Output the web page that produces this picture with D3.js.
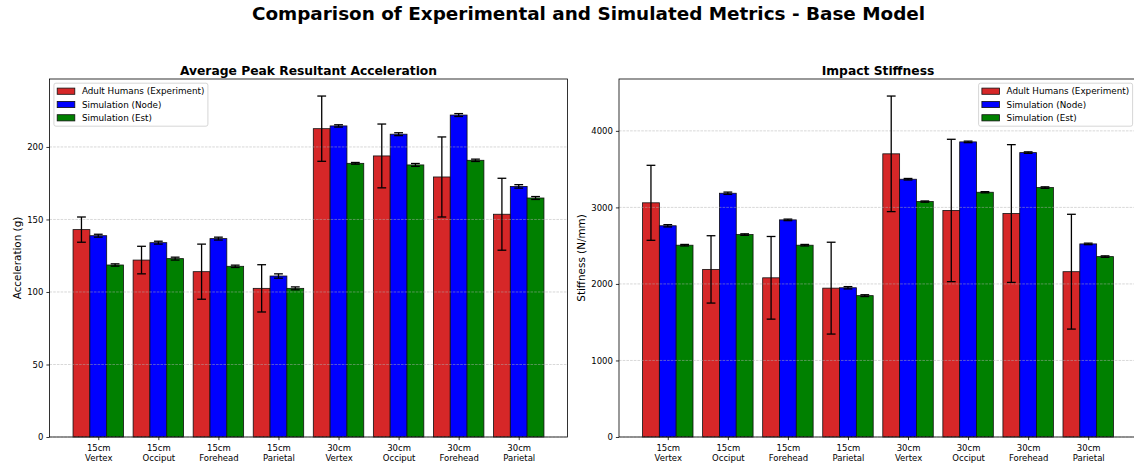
<!DOCTYPE html>
<html>
<head>
<meta charset="utf-8">
<script src="https://cdn.jsdelivr.net/npm/d3@7"></script>
<style>
  body { margin: 0; background: #fff; }
  svg { display: block; font-family: "DejaVu Sans", sans-serif; }
</style>
</head>
<body>
<div class="canvas"></div>
<script>
// categories
const distances = ["15cm", "15cm", "15cm", "15cm", "30cm", "30cm", "30cm", "30cm"];
const locations = ["Vertex", "Occiput", "Forehead", "Parietal", "Vertex", "Occiput", "Forehead", "Parietal"];
const seriesNames = ["Adult Humans (Experiment)", "Simulation (Node)", "Simulation (Est)"];
const seriesColors = ["#d62728", "#0000ff", "#008000"];

// acceleration (g)
const accelExp = [143, 122, 114, 102.5, 212.6, 193.8, 179.3, 153.6];
const accelExpErr = [8.7, 9.5, 19, 16.3, 22.5, 22, 27.6, 24.8];
const accelNode = [138.8, 134, 136.8, 111, 214.5, 208.8, 222, 172.8];
const accelNodeErr = [1, 1, 1, 1.5, 0.8, 1, 1, 1.2];
const accelEst = [118.6, 123, 117.7, 102.5, 188.7, 187.6, 190.8, 164.8];
const accelEstErr = [0.8, 1, 0.8, 1, 0.6, 1, 0.8, 1];
const accelTicks = [0, 50, 100, 150, 200];

// stiffness (N/mm)
const stiffExp = [3060, 2190, 2080, 1945, 3700, 2960, 2920, 2160];
const stiffExpErr = [490, 440, 540, 600, 755, 930, 900, 750];
const stiffNode = [2760, 3185, 2837, 1950, 3368, 3856, 3716, 2523];
const stiffNodeErr = [15, 15, 10, 15, 10, 10, 10, 10];
const stiffEst = [2506, 2645, 2506, 1847, 3076, 3198, 3259, 2357];
const stiffEstErr = [10, 10, 10, 12, 8, 8, 10, 10];
const stiffTicks = [0, 1000, 2000, 3000, 4000];

const w = 1134;
const h = 468;
const barW = 0.28;

const svg = d3.select(".canvas")
  .append("svg")
  .attr("width", w)
  .attr("height", h);

// figure title
svg.append("text")
  .attr("x", 588.5)
  .attr("y", 19.5)
  .attr("text-anchor", "middle")
  .attr("font-size", 18.4)
  .attr("font-weight", "bold")
  .text("Comparison of Experimental and Simulated Metrics - Base Model");

function drawPanel(p) {
  const n = distances.length;
  // matplotlib style 5% margins around the bar extent
  const lo = -1.5 * barW, hi = n - 1 + 1.5 * barW;
  const pad = (hi - lo) * 0.05;
  const x = d3.scaleLinear().domain([lo - pad, hi + pad]).range([p.left, p.right]);

  const topVal = d3.max(p.series, s => d3.max(s.values, (v, i) => v + s.errors[i]));
  const y = d3.scaleLinear().domain([0, topVal * 1.05]).range([p.bottom, p.top]);

  const g = svg.append("g");

  // bars
  p.series.forEach((s, k) => {
    g.append("g")
      .selectAll("rect")
      .data(s.values)
      .enter()
      .append("rect")
      .attr("x", (d, i) => x(i + (k - 1) * barW - barW / 2))
      .attr("width", x(barW) - x(0))
      .attr("y", d => y(d))
      .attr("height", d => p.bottom - y(d))
      .attr("fill", seriesColors[k])
      .attr("stroke", "#111")
      .attr("stroke-width", 0.8);
  });

  // grid (drawn above the bars like matplotlib)
  g.append("g")
    .selectAll("line")
    .data(p.ticks)
    .enter()
    .append("line")
    .attr("x1", p.left)
    .attr("x2", p.right)
    .attr("y1", d => y(d))
    .attr("y2", d => y(d))
    .attr("stroke", "#b0b0b0")
    .attr("stroke-opacity", 0.7)
    .attr("stroke-width", 0.7)
    .attr("stroke-dasharray", "2.6,1.1");

  // error bars
  p.series.forEach((s, k) => {
    const eg = g.append("g").attr("stroke", "#000").attr("stroke-width", 1.3);
    s.values.forEach((v, i) => {
      const cx = x(i + (k - 1) * barW);
      const y1 = y(v - s.errors[i]);
      const y2 = y(v + s.errors[i]);
      eg.append("line").attr("x1", cx).attr("x2", cx).attr("y1", y1).attr("y2", y2);
      eg.append("line").attr("x1", cx - 4.4).attr("x2", cx + 4.4).attr("y1", y1).attr("y2", y1);
      eg.append("line").attr("x1", cx - 4.4).attr("x2", cx + 4.4).attr("y1", y2).attr("y2", y2);
    });
  });

  // frame
  g.append("rect")
    .attr("x", p.left)
    .attr("y", p.top)
    .attr("width", p.right - p.left)
    .attr("height", p.bottom - p.top)
    .attr("fill", "none")
    .attr("stroke", "#000")
    .attr("stroke-width", 0.8);

  // axes
  const xAxis = d3.axisBottom(x)
    .tickValues(d3.range(n))
    .tickSize(3.1)
    .tickPadding(3)
    .tickFormat(() => "");
  const xAxisGroup = g.append("g")
    .attr("transform", `translate(0, ${p.bottom})`)
    .call(xAxis);
  xAxisGroup.select(".domain").remove();
  xAxisGroup.selectAll(".tick line").attr("stroke-width", 0.8);
  xAxisGroup.selectAll(".tick text")
    .attr("font-size", 8.5)
    .attr("font-family", "DejaVu Sans")
    .attr("fill", "#000")
    .attr("dy", null)
    .attr("y", 14)
    .each(function (d) {
      const t = d3.select(this);
      t.append("tspan").attr("x", 0).text(distances[d]);
      t.append("tspan").attr("x", 0).attr("dy", 9.5).text(locations[d]);
    });

  const yAxis = d3.axisLeft(y)
    .tickValues(p.ticks)
    .tickSize(3.1)
    .tickPadding(3)
    .tickFormat(d3.format("d"));
  const yAxisGroup = g.append("g")
    .attr("transform", `translate(${p.left}, 0)`)
    .call(yAxis);
  yAxisGroup.select(".domain").remove();
  yAxisGroup.selectAll(".tick line").attr("stroke-width", 0.8);
  yAxisGroup.selectAll(".tick text")
    .attr("font-size", 8.5)
    .attr("font-family", "DejaVu Sans")
    .attr("fill", "#000");

  // axis label and title
  g.append("text")
    .attr("transform", `translate(${p.yLabelX}, ${(p.top + p.bottom) / 2}) rotate(-90)`)
    .attr("text-anchor", "middle")
    .attr("dy", "0.35em")
    .attr("font-size", 10.4)
    .text(p.yLabel);

  g.append("text")
    .attr("x", (p.left + p.right) / 2)
    .attr("y", 74.5)
    .attr("text-anchor", "middle")
    .attr("font-size", 12.3)
    .attr("font-weight", "bold")
    .text(p.title);

  // legend
  const legW = 154, legH = 43;
  const legX = p.legendRight ? p.right - 4.4 - legW : p.left + 4.4;
  const legY = p.top + 4.2;
  const leg = g.append("g").attr("transform", `translate(${legX}, ${legY})`);
  leg.append("rect")
    .attr("width", legW)
    .attr("height", legH)
    .attr("rx", 2)
    .attr("fill", "#fff")
    .attr("fill-opacity", 0.8)
    .attr("stroke", "#ccc")
    .attr("stroke-width", 0.8);
  const rows = leg.selectAll(".item")
    .data(seriesNames)
    .enter()
    .append("g")
    .attr("transform", (d, i) => `translate(3.3, ${8 + i * 13.3})`);
  rows.append("rect")
    .attr("y", -3.1)
    .attr("width", 17.6)
    .attr("height", 6.2)
    .attr("fill", (d, i) => seriesColors[i])
    .attr("stroke", "#111")
    .attr("stroke-width", 0.8);
  rows.append("text")
    .attr("x", 24.7)
    .attr("y", 3.2)
    .attr("font-size", 8.8)
    .text(d => d);
}

drawPanel({
  left: 49.5, right: 567.5, top: 79, bottom: 437,
  title: "Average Peak Resultant Acceleration",
  yLabel: "Acceleration (g)", yLabelX: 17,
  ticks: accelTicks,
  legendRight: false,
  series: [
    { values: accelExp, errors: accelExpErr },
    { values: accelNode, errors: accelNodeErr },
    { values: accelEst, errors: accelEstErr }
  ]
});

drawPanel({
  left: 619, right: 1137, top: 79, bottom: 437,
  title: "Impact Stiffness",
  yLabel: "Stiffness (N/mm)", yLabelX: 581,
  ticks: stiffTicks,
  legendRight: true,
  series: [
    { values: stiffExp, errors: stiffExpErr },
    { values: stiffNode, errors: stiffNodeErr },
    { values: stiffEst, errors: stiffEstErr }
  ]
});
</script>
</body>
</html>
